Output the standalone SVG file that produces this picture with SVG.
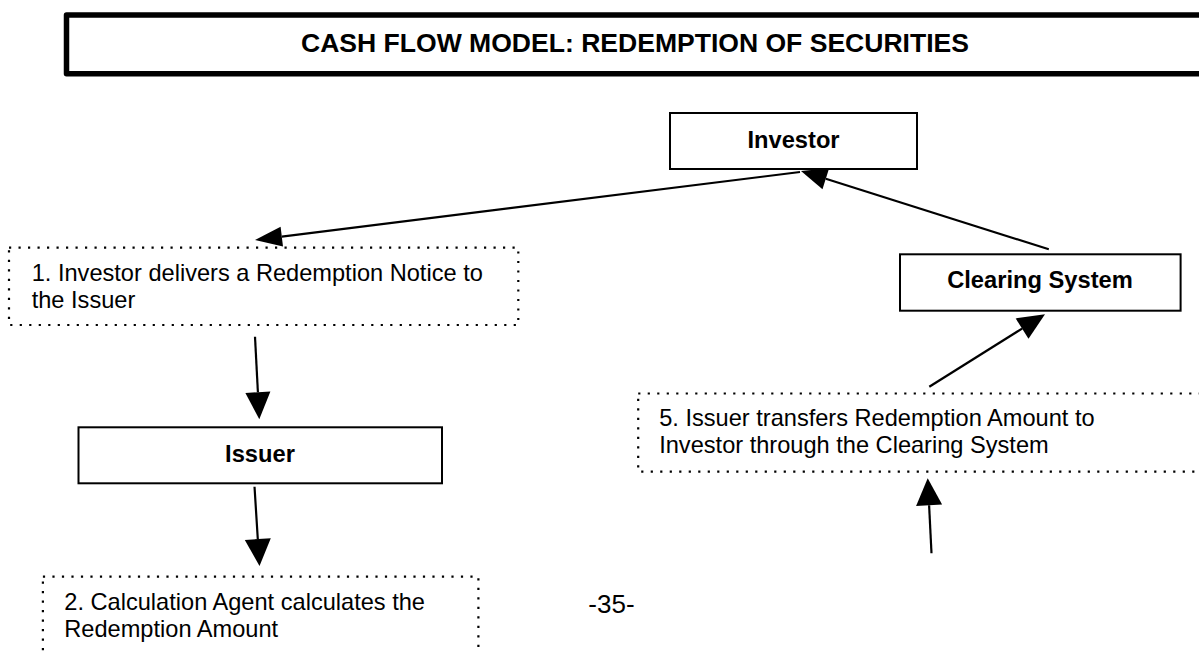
<svg xmlns="http://www.w3.org/2000/svg" width="1199" height="652" viewBox="0 0 1199 652">
<style>
.bg{fill:#ffffff}
.box{fill:#ffffff;stroke:#000000;stroke-width:2}
.dot{fill:#ffffff;stroke:#000000;stroke-width:2.2;stroke-dasharray:2.2 7.3}
.line{stroke:#000000;stroke-width:2.2;fill:none}
.head{fill:#000000;stroke:none}
.b{font-family:"Liberation Sans",Arial,sans-serif;font-weight:bold;font-size:23.7px;fill:#000000;text-anchor:middle}
.t{font-family:"Liberation Sans",Arial,sans-serif;font-size:23.6px;fill:#000000}
</style>
<rect class="bg" x="0" y="0" width="1199" height="652"/>
<g id="title">
<rect x="66.5" y="15" width="1150" height="58.7" fill="#ffffff" stroke="#000000" stroke-width="5.5" stroke-linejoin="round"/>
<text x="635" y="51.7" font-family="'Liberation Sans',Arial,sans-serif" font-weight="bold" font-size="26.5" text-anchor="middle" textLength="668" lengthAdjust="spacingAndGlyphs">CASH FLOW MODEL: REDEMPTION OF SECURITIES</text>
</g>
<g id="connectors">
<line class="line" x1="800" y1="172" x2="281.8" y2="236.6"/>
<polygon class="head" points="255,240 280.6,226.7 283,246.5"/>
<line class="line" x1="1048.8" y1="249.3" x2="825.8" y2="178.8"/>
<polygon class="head" points="801,171 829.1,168.3 822.5,189.3"/>
<line class="line" x1="255" y1="336.7" x2="257.9" y2="392.3"/>
<polygon class="head" points="259.3,419.3 270.4,391.6 245.4,392.9"/>
<line class="line" x1="254.5" y1="486.7" x2="257.8" y2="539.1"/>
<polygon class="head" points="259.5,566 270.8,538.3 244.8,539.9"/>
<line class="line" x1="929.3" y1="386.7" x2="1022.1" y2="328.6"/>
<polygon class="head" points="1045,314.3 1028.5,338.8 1015.7,318.4"/>
<line class="line" x1="931.5" y1="553.3" x2="929.1" y2="505.3"/>
<polygon class="head" points="927.7,478.3 942.1,504.6 916.1,506"/>
</g>
<g id="investor">
<rect class="box" x="670" y="113" width="247" height="56"/>
<text class="b" x="793.5" y="148.3">Investor</text>
</g>
<g id="clearing-system">
<rect class="box" x="900" y="254.3" width="280.6" height="56.4"/>
<text class="b" x="1040" y="288.3">Clearing System</text>
</g>
<g id="issuer">
<rect class="box" x="78.5" y="427.3" width="363.5" height="56"/>
<text class="b" x="260" y="461.7">Issuer</text>
</g>
<g id="step1">
<rect class="dot" x="9" y="247.7" width="509.3" height="77.3"/>
<text class="t" x="31.7" y="281">1. Investor delivers a Redemption Notice to</text>
<text class="t" x="31.7" y="307.7">the Issuer</text>
</g>
<g id="step5">
<rect class="dot" x="638.2" y="393.5" width="600" height="78.2"/>
<text class="t" x="659.2" y="426">5. Issuer transfers Redemption Amount to</text>
<text class="t" x="659.2" y="453">Investor through the Clearing System</text>
</g>
<g id="step2">
<rect class="dot" x="42.9" y="576.7" width="435.5" height="100"/>
<text class="t" x="64.3" y="610">2. Calculation Agent calculates the</text>
<text class="t" x="64.3" y="637.3">Redemption Amount</text>
</g>
<g id="page-number">
<text x="588.3" y="613.3" font-family="'Liberation Sans',Arial,sans-serif" font-size="26">-35-</text>
</g>
</svg>
